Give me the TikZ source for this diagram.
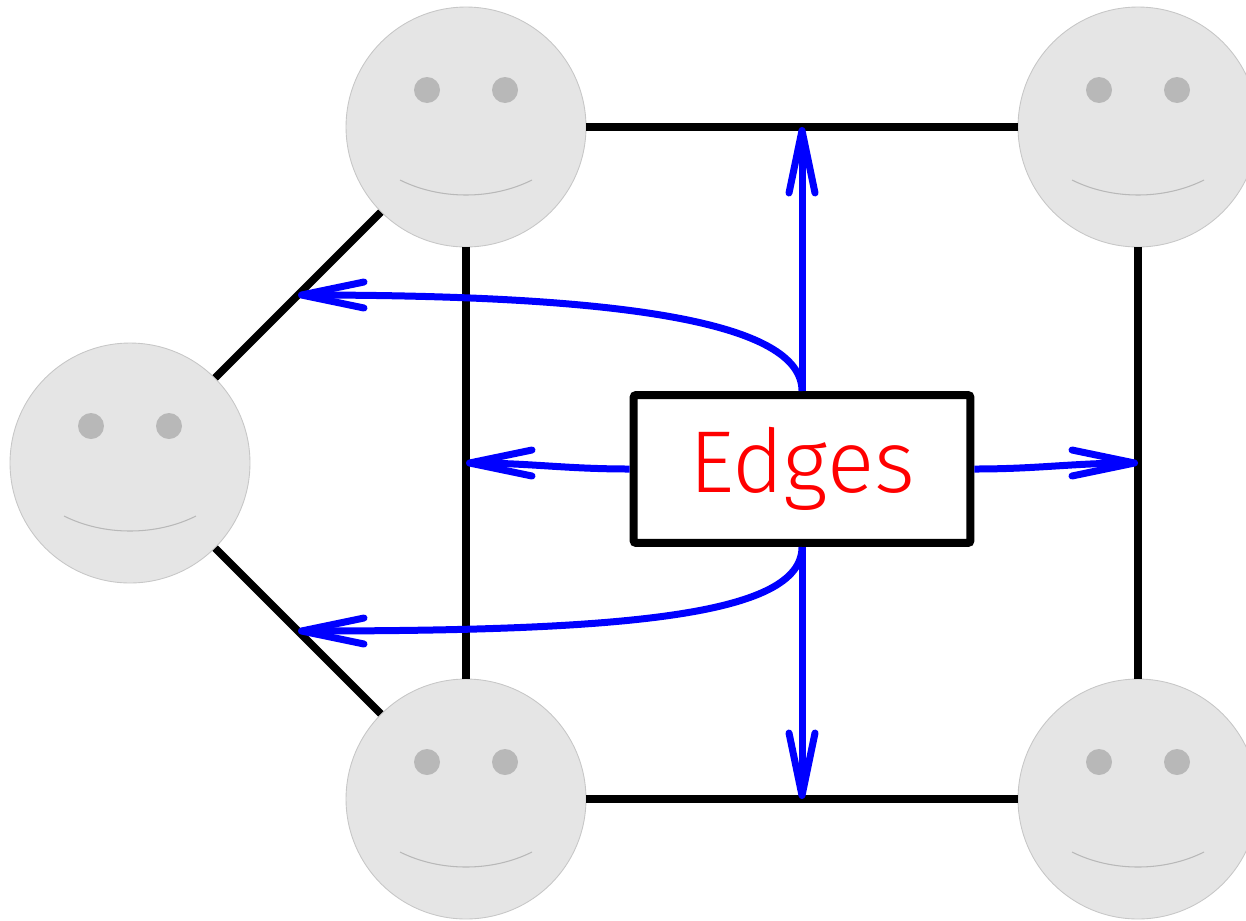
\documentclass[tikz,border=0pt]{standalone}
\usepackage{fontspec}
\newfontfamily\handfont{Fira Sans Light}
\usetikzlibrary{arrows.meta,calc}
\begin{document}
\begin{tikzpicture}[x=0.02cm,y=-0.02cm,
  face/.style={circle,minimum size=4.8cm,inner sep=0pt,fill=black!10,draw=black!22,line width=0.5pt},
  eye/.style={fill=black!28},
  smile/.style={draw=black!28,line width=0.6pt},
  edge/.style={line width=0.15cm},
  pointer/.style={blue,line width=0.14cm,-{Straight Barb[length=1.25cm,width=0.52cm,round]}},
  box/.style={draw,fill=white,line width=0.16cm,rounded corners=1.5pt,minimum width=6.74cm,minimum height=2.96cm,
    text=red,font=\handfont\fontsize{50}{60}\selectfont}]
\useasboundingbox (0,0) rectangle (1246,920);
% the five faces
\node[face] (l) at (130,463) {};
\node[face] (tl) at (466,127) {};
\node[face] (tr) at (1138,127) {};
\node[face] (bl) at (466,799) {};
\node[face] (br) at (1138,799) {};
\foreach \f in {l,tl,tr,bl,br} {
  \fill[eye] ([shift={(-39,-37)}]\f.center) circle (0.26cm);
  \fill[eye] ([shift={(39,-37)}]\f.center) circle (0.26cm);
  \draw[smile] ([shift={(-66,53)}]\f.center) .. controls +(40,20) and +(-40,20) .. ([shift={(66,53)}]\f.center);
}
% edges
\draw[edge] (l) -- (tl);
\draw[edge] (l) -- (bl);
\draw[edge] (tl) -- (tr);
\draw[edge] (bl) -- (br);
\draw[edge] (tl) -- (bl);
\draw[edge] (tr) -- (br);
% midpoints of the edges
\coordinate (mt) at ($(tl)!0.5!(tr)$);
\coordinate (mb) at ($(bl)!0.5!(br)$);
\coordinate (ml) at ($(tl)!0.5!(bl)$);
\coordinate (mr) at ($(tr)!0.5!(br)$);
\coordinate (mlt) at ($(l)!0.5!(tl)$);
\coordinate (mlb) at ($(l)!0.5!(bl)$);
% label
\node[box] (edges) at (802,469) {Edges};
\draw[pointer] (edges.north) -- (mt);
\draw[pointer] (edges.south) -- (mb);
\draw[pointer] (edges.west) to[out=180,in=0] (ml);
\draw[pointer] (edges.east) to[out=0,in=180] (mr);
\draw[pointer] (edges.north) .. controls +(0,-70) and +(320,0) .. (mlt);
\draw[pointer] (edges.south) .. controls +(0,70) and +(320,0) .. (mlb);
\end{tikzpicture}
\end{document}
